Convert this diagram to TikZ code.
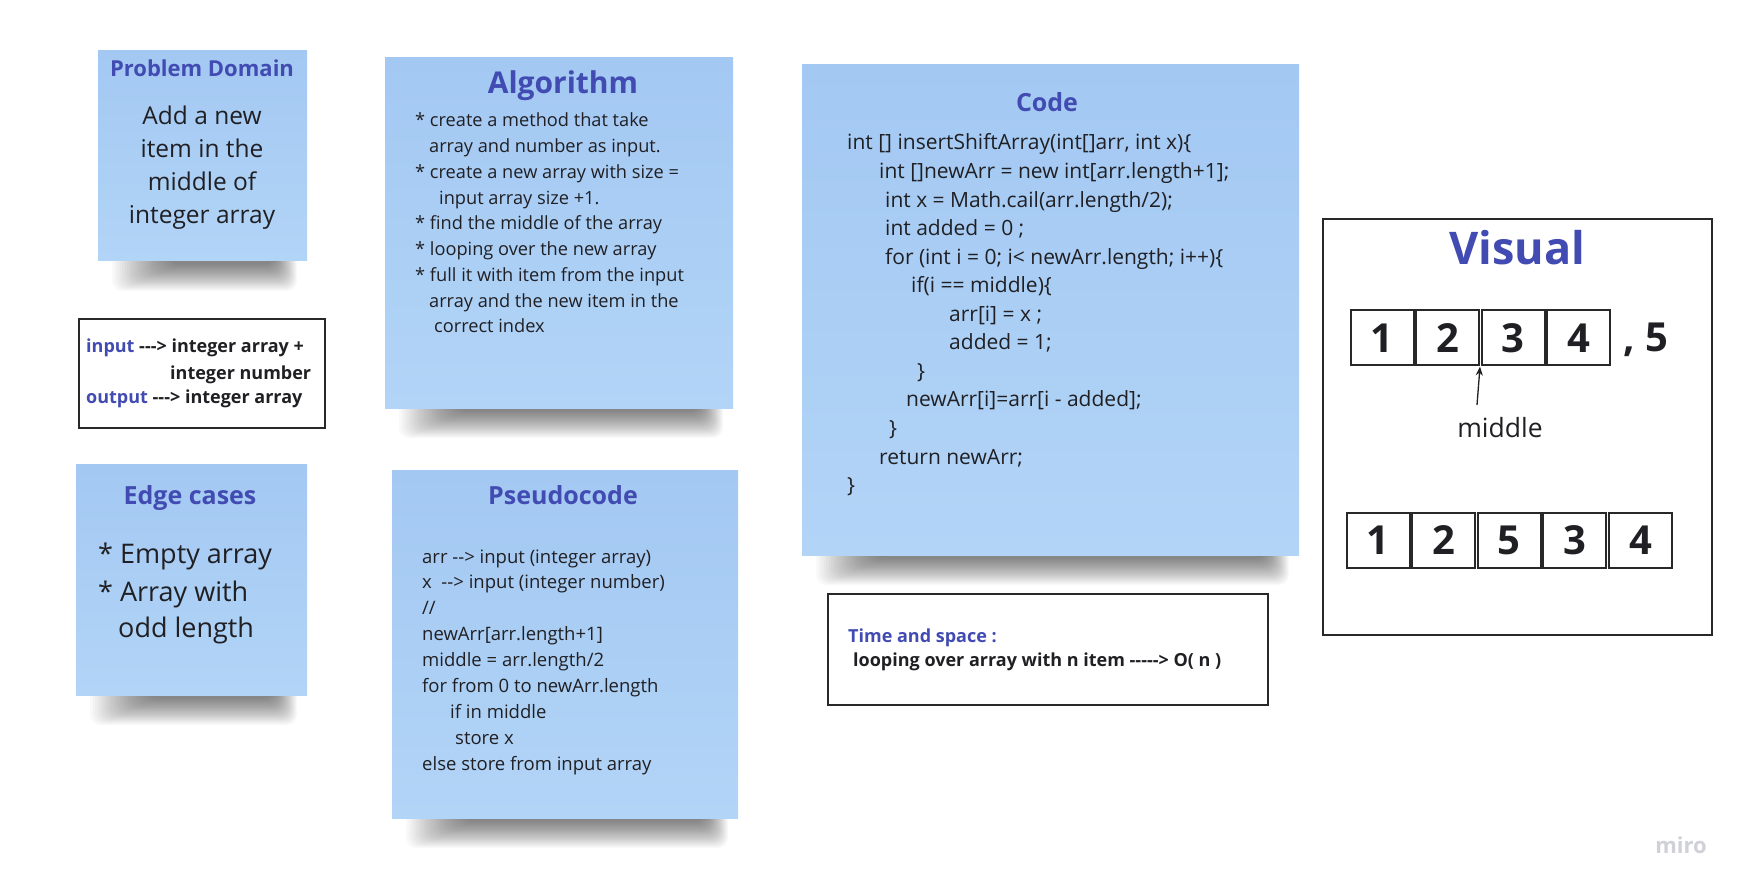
\documentclass[tikz,border=0pt]{standalone}
\usepackage{fontspec}
\setmainfont{Open Sans}[Ligatures=TeXOff]
\usetikzlibrary{arrows.meta}
\definecolor{notedark}{RGB}{163,200,242}
\definecolor{notelight}{RGB}{178,212,247}
\definecolor{titleblue}{RGB}{65,75,178}
\definecolor{ink}{RGB}{32,32,36}
\definecolor{framegray}{RGB}{40,40,40}
\definecolor{watermark}{RGB}{208,208,216}
\newcommand{\fs}[1]{\fontsize{#1}{#1}\selectfont}
% soft shadow under a sticky note: left x, right x, bottom y
\newcommand{\noteshadow}[3]{%
  \foreach \k in {0,...,23}
    \fill[black, opacity=0.022, rounded corners=10pt]
      (#1+14+2.5*\k, #3-8) rectangle (#2-10-1*\k, #3+30-1.15*\k);
}

\begin{document}
\begin{tikzpicture}[x=1pt, y=-1pt, >=Stealth,
  sticky/.style={top color=notedark, bottom color=notelight, inner sep=0pt},
  frame/.style={draw=framegray, line width=2pt, fill=white, inner sep=0pt},
  cell/.style={draw=framegray, line width=2pt, minimum width=63pt, minimum height=55pt,
    inner sep=0pt, text=ink, font=\bfseries\fs{40}},
  ttl/.style={text=titleblue, anchor=base, inner sep=0pt},
  txt/.style={text=ink, anchor=base west, inner sep=0pt}]
  \useasboundingbox[fill=white] (0,0) rectangle (1749,893);

  % Shadows
  \noteshadow{98}{307}{261}
  \noteshadow{385}{733}{408}
  \noteshadow{76}{307}{695}
  \noteshadow{392}{738}{818}
  \noteshadow{802}{1299}{555}

  % Sticky notes
  \node[sticky, minimum width=209pt, minimum height=210pt] (domain) at (202.5,156) {};
  \node[sticky, minimum width=348pt, minimum height=350pt] (algo) at (559,233) {};
  \node[sticky, minimum width=231pt, minimum height=231pt] (edge) at (191.5,579.5) {};
  \node[sticky, minimum width=346pt, minimum height=348pt] (pseudo) at (565,644) {};
  \node[sticky, minimum width=497pt, minimum height=490pt] (code) at (1050.5,310) {};

  % Framed boxes
  \node[frame, minimum width=246pt, minimum height=109pt] (io) at (202,373.5) {};
  \node[frame, minimum width=440pt, minimum height=111pt] (cost) at (1048,649.5) {};
  \node[frame, minimum width=389pt, minimum height=416pt] (visual) at (1517.5,427) {};

  % Problem domain
  \node[ttl, font=\bfseries\fs{22}] (domainttl) at (202,77) {Problem Domain};
  \foreach \t [count=\i] in {Add a new, item in the, middle of, integer array}
    \node[text=ink, anchor=base, inner sep=0pt, font=\fs{24.5}] (domain\i) at (202,125+33*\i-33) {\t};

  % Input / output
  \node[txt, font=\bfseries\fs{18}] (io1) at (86,353) {\textcolor{titleblue}{input} ---> integer array +};
  \node[txt, font=\bfseries\fs{18}] (io2) at (170,379) {integer number};
  \node[txt, font=\bfseries\fs{18}] (io3) at (86,403) {\textcolor{titleblue}{output} ---> integer array};

  % Algorithm
  \node[ttl, font=\bfseries\fs{30}] (algottl) at (563,94) {Algorithm};
  \foreach \cx/\ctext [count=\i] in {415/{* create a method that take}, 429/{array and number as input.},
      415/{* create a new array with size =}, 439/{input array size +1.},
      415/{* find the middle of the array}, 415/{* looping over the new array},
      415/{* full it with item from the input}, 429/{array and the new item in the},
      434/{correct index}}
    \node[txt, font=\fs{18.2}] (algo\i) at (\cx,127+25.75*\i-25.75) {\ctext};

  % Edge cases
  \node[ttl, font=\bfseries\fs{25}] (edgettl) at (190,504) {Edge cases};
  \node[txt, font=\fs{27}] (edge1) at (98,563) {* Empty array};
  \node[txt, font=\fs{27}] (edge2) at (98,601) {* Array with};
  \node[txt, font=\fs{27}] (edge3) at (118,637) {odd length};

  % Pseudocode
  \node[ttl, font=\bfseries\fs{25}] (pseudottl) at (563,504) {Pseudocode};
  \foreach \cx/\ctext [count=\i] in {422/{arr --> input (integer array)}, 422/{x\ \ --> input (integer number)},
      422/{//}, 422/{newArr[arr.length+1]}, 422/{middle = arr.length/2},
      422/{for from 0 to newArr.length}, 450/{if in middle}, 455/{store x},
      422/{else store from input array}}
    \node[txt, font=\fs{18.5}] (pseudo\i) at (\cx,563+25.9*\i-25.9) {\ctext};

  % Code
  \node[ttl, font=\bfseries\fs{25}] (codettl) at (1047,112) {Code};
  \foreach \cx/\ctext [count=\i] in {847/{int [] insertShiftArray(int[]arr, int x)\{},
      879/{int []newArr = new int[arr.length+1];}, 885/{int x = Math.cail(arr.length/2);},
      885/{int added = 0 ;}, 885/{for (int i = 0; i< newArr.length; i++)\{},
      911/{if(i == middle)\{}, 949/{arr[i] = x ;}, 949/{added = 1;}, 917/{\}},
      906/{newArr[i]=arr[i - added];}, 889/{\}}, 879/{return newArr;}, 847/{\}}}
    \node[txt, font=\fs{21}] (code\i) at (\cx,150+28.55*\i-28.55) {\ctext};

  % Time and space
  \node[txt, font=\bfseries\fs{18}, text=titleblue] (cost1) at (848,642) {Time and space :};
  \node[txt, font=\bfseries\fs{18}] (cost2) at (853,666) {looping over array with n item -----> O( n )};

  % Visual
  \node[ttl, font=\bfseries\fs{45}] (visualttl) at (1517,265) {Visual};
  \foreach \v [count=\i] in {1,2,3,4}
    \node[cell] (t\i) at (1382+65.5*\i-65.5,338) {\v};
  \node[txt, font=\bfseries\fs{40}] (extra) at (1623,352) {, 5};
  \foreach \v [count=\i] in {1,2,5,3,4}
    \node[cell] (b\i) at (1378+65.6*\i-65.6,540.5) {\v};
  \node[text=ink, anchor=base, inner sep=0pt, font=\fs{26.5}] (mid) at (1500,437) {middle};
  \coordinate (midtail) at (1477,405);
  \draw[-{Stealth[length=9pt, width=7pt]}, line width=1.3pt, ink] (midtail) -- (t2.south east);

  \node[text=watermark, inner sep=0pt, font=\bfseries\fs{22}] (miro) at (1681,845) {miro};
\end{tikzpicture}
\end{document}
